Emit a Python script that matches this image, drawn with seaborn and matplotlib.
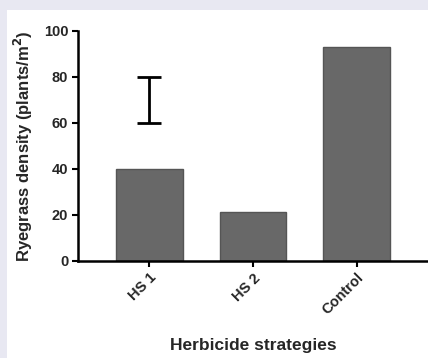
import matplotlib.patches as patches
import pandas as pd
import seaborn as sns
from matplotlib import pyplot, rcParams

strategies = ["HS 1", "HS 2", "Control"]
density = [40, 21.5, 93]
# scale bar (LSD) drawn above HS 1
lsdX = 0
lsdLow, lsdHigh = 60, 80

sns.set_style("ticks")
rcParams["font.family"] = ["Liberation Sans", "DejaVu Sans"]
rcParams["font.weight"] = "bold"

df = pd.DataFrame({"strategy": strategies, "density": density})

fig = pyplot.figure(figsize=(4.28, 3.58), dpi=100)
fig.patch.set_facecolor("#e8e8f2")
fig.add_artist(patches.Rectangle((7 / 428, 0), 1, 1 - 10 / 358, transform=fig.transFigure,
                                 facecolor="white", edgecolor="none", zorder=0))

ax = fig.add_axes([78 / 428, 1 - 261 / 358, 1 - 78 / 428, 230 / 358])
ax.set_facecolor("none")
sns.barplot(data=df, x="strategy", y="density", color="#686868", width=0.64,
            edgecolor="#555555", linewidth=1, saturation=1, ax=ax)

mid = (lsdLow + lsdHigh) / 2
ax.errorbar([lsdX], [mid], yerr=[[mid - lsdLow], [lsdHigh - mid]], fmt="none",
            ecolor="black", elinewidth=2, capsize=8.5, capthick=2)

ax.set_ylim(0, 100)
ax.set_xlim(-0.69, 2.69)
ax.set_yticks(range(0, 101, 20))
for side in ["top", "right"]:
    ax.spines[side].set_visible(False)
for side in ["left", "bottom"]:
    ax.spines[side].set_linewidth(1.8)
    ax.spines[side].set_color("black")
ax.tick_params(width=1.5, length=4, labelsize=10.5, color="black", pad=3)
pyplot.setp(ax.get_xticklabels(), rotation=45, ha="right", rotation_mode="anchor")

ax.set_ylabel("Ryegrass density (plants/m$^2$)", fontsize=12, fontweight="bold", labelpad=6)
ax.set_xlabel("Herbicide strategies", fontsize=12.5, fontweight="bold", labelpad=15)

fig.savefig("out.png", dpi=100, facecolor=fig.get_facecolor())
